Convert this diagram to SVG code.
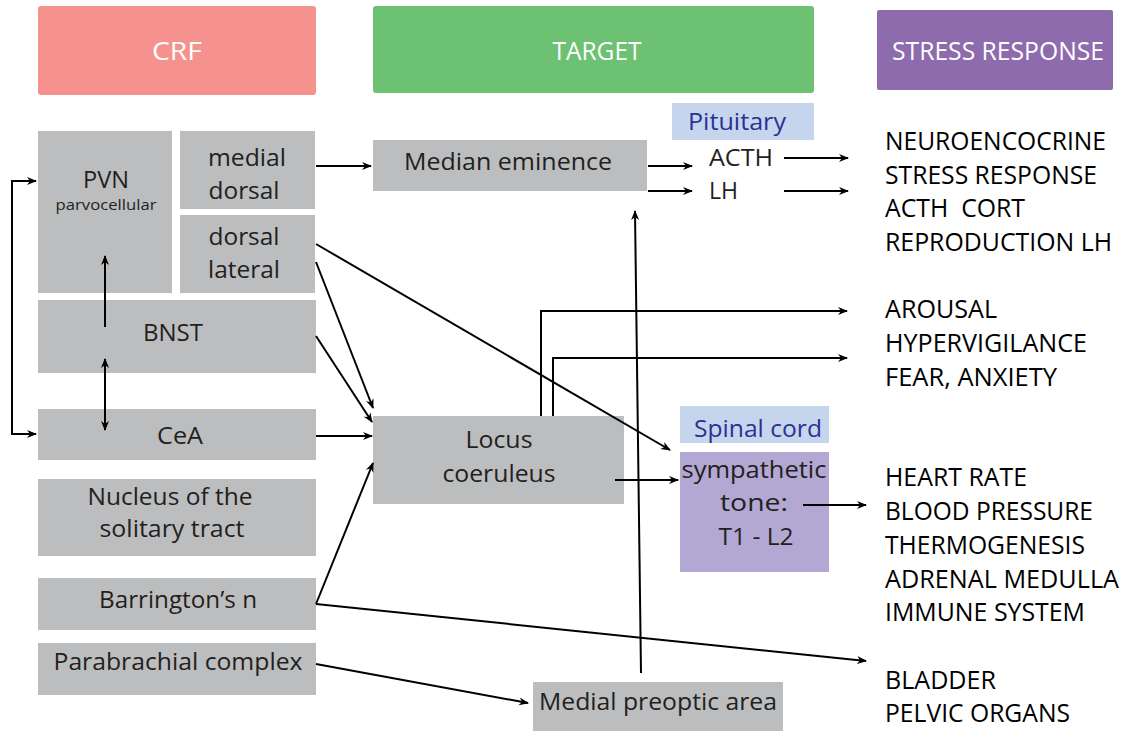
<svg xmlns="http://www.w3.org/2000/svg" width="1124" height="731" viewBox="0 0 1124 731">
<style>
.box{fill:#BCBDBF}
.t{font-family:"Open Sans","Noto Sans","Liberation Sans",sans-serif;fill:#231F20;font-size:24px}
.c{text-anchor:middle}
.h{fill:#FFFFFF;font-size:26px}
.r{font-size:25px;fill:#000}
.b{fill:#2E3192}
.ln{fill:none;stroke:#000;stroke-width:2}
</style>
<defs>
<marker id="ah" viewBox="0 0 10 10" refX="9" refY="5" markerWidth="5" markerHeight="5" orient="auto-start-reverse">
<path d="M0,1 L10,5 L0,9 L3,5 z" fill="#000"/>
</marker>
</defs>
<g id="hdr-crf"><rect x="38" y="6" width="278" height="89" rx="3" fill="#F5928D"/><text class="t h c" x="177" y="60" textLength="50" lengthAdjust="spacingAndGlyphs">CRF</text></g>
<g id="hdr-target"><rect x="373" y="6" width="441" height="87" rx="3" fill="#6DC172"/><text class="t h c" x="597" y="60" textLength="89" lengthAdjust="spacingAndGlyphs">TARGET</text></g>
<g id="hdr-stress"><rect x="877" y="10" width="236" height="80" rx="2" fill="#8D6BAD"/><text class="t h c" x="998" y="60" textLength="212" lengthAdjust="spacingAndGlyphs">STRESS RESPONSE</text></g>

<g id="pvn"><rect class="box" x="38" y="131" width="134" height="162"/><text class="t c" x="106" y="188" textLength="46" lengthAdjust="spacingAndGlyphs">PVN</text><text class="t c" x="106" y="210" style="font-size:15px" textLength="101" lengthAdjust="spacingAndGlyphs">parvocellular</text></g>
<g id="medial-dorsal"><rect class="box" x="180" y="131" width="135" height="78"/><text class="t c" x="247" y="166" textLength="78" lengthAdjust="spacingAndGlyphs">medial</text><text class="t c" x="244" y="199" textLength="71" lengthAdjust="spacingAndGlyphs">dorsal</text></g>
<g id="dorsal-lateral"><rect class="box" x="180" y="215" width="135" height="78"/><text class="t c" x="244" y="245" textLength="71" lengthAdjust="spacingAndGlyphs">dorsal</text><text class="t c" x="244" y="278" textLength="72" lengthAdjust="spacingAndGlyphs">lateral</text></g>
<g id="bnst"><rect class="box" x="38" y="300" width="278" height="73"/><text class="t c" x="173" y="341" textLength="60" lengthAdjust="spacingAndGlyphs">BNST</text></g>
<g id="cea"><rect class="box" x="38" y="409" width="278" height="51"/><text class="t c" x="180" y="444" textLength="46" lengthAdjust="spacingAndGlyphs">CeA</text></g>
<g id="nts"><rect class="box" x="38" y="479" width="278" height="77"/><text class="t c" x="170" y="505" textLength="165" lengthAdjust="spacingAndGlyphs">Nucleus of the</text><text class="t c" x="172" y="537" textLength="145" lengthAdjust="spacingAndGlyphs">solitary tract</text></g>
<g id="barrington"><rect class="box" x="38" y="578" width="278" height="52"/><text class="t c" x="178" y="608" textLength="158" lengthAdjust="spacingAndGlyphs">Barrington’s n</text></g>
<g id="parabrachial"><rect class="box" x="38" y="643" width="278" height="52"/><text class="t c" x="178" y="670" textLength="249" lengthAdjust="spacingAndGlyphs">Parabrachial complex</text></g>

<g id="median-eminence"><rect class="box" x="373" y="140" width="274" height="51"/><text class="t c" x="508" y="170" textLength="208" lengthAdjust="spacingAndGlyphs">Median eminence</text></g>
<g id="pituitary"><rect x="672" y="103" width="142" height="37" fill="#C5D5EE"/><text class="t b c" x="737" y="130" textLength="98" lengthAdjust="spacingAndGlyphs">Pituitary</text></g>
<g id="acth"><text class="t" x="709" y="166" textLength="64" lengthAdjust="spacingAndGlyphs">ACTH</text></g>
<g id="lh"><text class="t" x="709" y="199" textLength="29" lengthAdjust="spacingAndGlyphs">LH</text></g>
<g id="locus"><rect class="box" x="373" y="416" width="251" height="88"/><text class="t c" x="499" y="448" textLength="67" lengthAdjust="spacingAndGlyphs">Locus</text><text class="t c" x="499" y="482" textLength="113" lengthAdjust="spacingAndGlyphs">coeruleus</text></g>
<g id="spinal-cord"><rect x="680" y="406" width="149" height="37" fill="#C5D5EE"/><text class="t b c" x="758" y="437" textLength="128" lengthAdjust="spacingAndGlyphs">Spinal cord</text></g>
<g id="sympathetic"><rect x="680" y="452" width="149" height="120" fill="#B3A7D3"/><text class="t c" x="754" y="478" textLength="145" lengthAdjust="spacingAndGlyphs">sympathetic</text><text class="t c" x="754" y="511" textLength="68" lengthAdjust="spacingAndGlyphs">tone:</text><text class="t c" x="756" y="545" textLength="75" lengthAdjust="spacingAndGlyphs">T1 - L2</text></g>
<g id="mpoa"><rect class="box" x="533" y="682" width="250" height="49"/><text class="t c" x="658" y="710" textLength="238" lengthAdjust="spacingAndGlyphs">Medial preoptic area</text></g>

<g id="resp-neuro"><text class="t r" x="885" y="150" textLength="221" lengthAdjust="spacingAndGlyphs">NEUROENCOCRINE</text><text class="t r" x="885" y="184" textLength="212" lengthAdjust="spacingAndGlyphs">STRESS RESPONSE</text><text class="t r" x="885" y="217" textLength="140" lengthAdjust="spacingAndGlyphs" xml:space="preserve">ACTH  CORT</text><text class="t r" x="885" y="251" textLength="227" lengthAdjust="spacingAndGlyphs">REPRODUCTION LH</text></g>
<g id="resp-arousal"><text class="t r" x="885" y="318" textLength="112" lengthAdjust="spacingAndGlyphs">AROUSAL</text><text class="t r" x="885" y="352" textLength="202" lengthAdjust="spacingAndGlyphs">HYPERVIGILANCE</text><text class="t r" x="885" y="386" textLength="172" lengthAdjust="spacingAndGlyphs">FEAR, ANXIETY</text></g>
<g id="resp-autonomic"><text class="t r" x="885" y="486" textLength="142" lengthAdjust="spacingAndGlyphs">HEART RATE</text><text class="t r" x="885" y="520" textLength="208" lengthAdjust="spacingAndGlyphs">BLOOD PRESSURE</text><text class="t r" x="885" y="554" textLength="200" lengthAdjust="spacingAndGlyphs">THERMOGENESIS</text><text class="t r" x="885" y="588" textLength="234" lengthAdjust="spacingAndGlyphs">ADRENAL MEDULLA</text><text class="t r" x="885" y="621" textLength="200" lengthAdjust="spacingAndGlyphs">IMMUNE SYSTEM</text></g>
<g id="resp-bladder"><text class="t r" x="885" y="689" textLength="111" lengthAdjust="spacingAndGlyphs">BLADDER</text><text class="t r" x="885" y="722" textLength="185" lengthAdjust="spacingAndGlyphs">PELVIC ORGANS</text></g>

<g id="connectors" class="ln">
<path class="ln" d="M36,181 H12 V434 H36" marker-start="url(#ah)" marker-end="url(#ah)"/>
<path class="ln" d="M105,327 V256" marker-end="url(#ah)"/>
<path class="ln" d="M105,359 V430" marker-start="url(#ah)" marker-end="url(#ah)"/>
<path class="ln" d="M316,166 H371" marker-end="url(#ah)"/>
<path class="ln" d="M316,244 L670,450" marker-end="url(#ah)"/>
<path class="ln" d="M316,262 L373,408" marker-end="url(#ah)"/>
<path class="ln" d="M316,336 L372,422" marker-end="url(#ah)"/>
<path class="ln" d="M316,436 H372" marker-end="url(#ah)"/>
<path class="ln" d="M316,604 L373,463" marker-end="url(#ah)"/>
<path class="ln" d="M316,604 L866,661" marker-end="url(#ah)"/>
<path class="ln" d="M316,664 L528,703" marker-end="url(#ah)"/>
<path class="ln" d="M641,673 L635,211" marker-end="url(#ah)"/>
<path class="ln" d="M648,166 H692" marker-end="url(#ah)"/>
<path class="ln" d="M648,191 H692" marker-end="url(#ah)"/>
<path class="ln" d="M784,158 H848" marker-end="url(#ah)"/>
<path class="ln" d="M784,191 H848" marker-end="url(#ah)"/>
<path class="ln" d="M541,416 V311 H847" marker-end="url(#ah)"/>
<path class="ln" d="M553,416 V358 H847" marker-end="url(#ah)"/>
<path class="ln" d="M615,480 H678" marker-end="url(#ah)"/>
<path class="ln" d="M803,505 H866" marker-end="url(#ah)"/>
</g>
</svg>
